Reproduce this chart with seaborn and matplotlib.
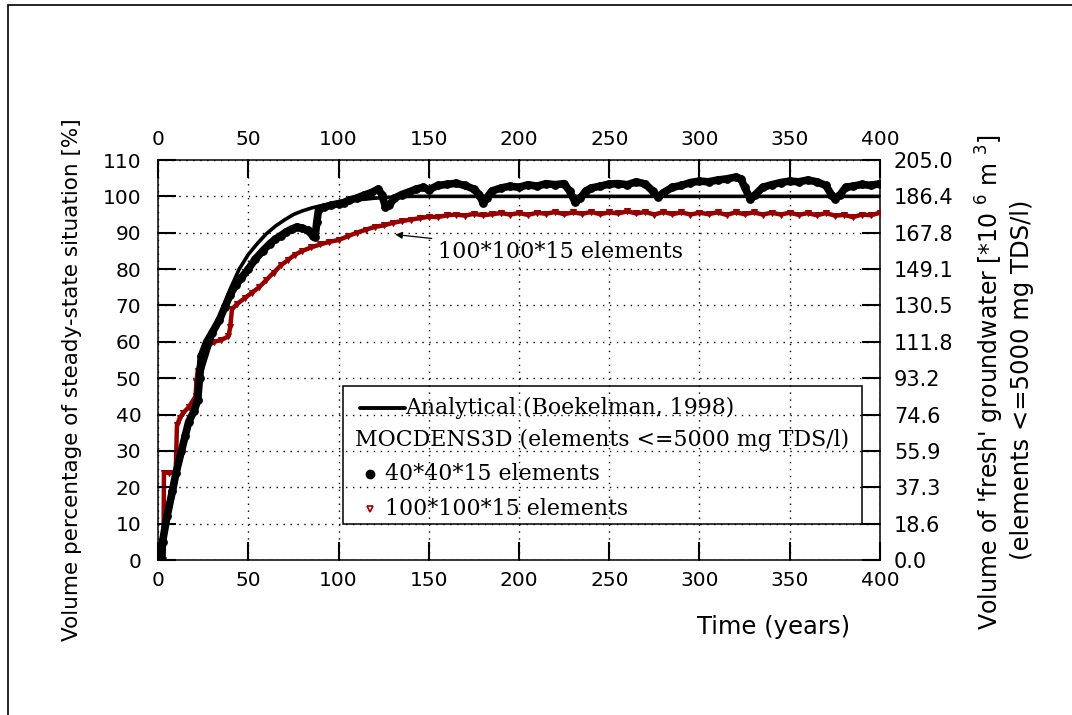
import matplotlib
matplotlib.use("Agg")
import matplotlib.pyplot as plt
import matplotlib.transforms as mtransforms
import seaborn as sns
import pandas as pd
from matplotlib.patches import Rectangle
from matplotlib.lines import Line2D

# ---------------- data ----------------
years_analytical = [0, 2, 5, 10, 15, 20, 25, 30, 35, 40, 45, 50, 55, 60, 65, 70, 75, 80,
                    85, 90, 95, 100, 110, 120, 130, 140, 150, 200, 250, 300, 350, 400]
pct_analytical = [0, 3, 10, 22, 33, 42, 53, 61, 68, 74.5, 80, 84, 87, 89.7, 91.8, 93.5, 95, 96,
                  96.8, 97.4, 97.9, 98.3, 99, 99.5, 99.8, 100, 100, 100, 100, 100, 100, 100]

years_40 = [0, 2, 2.5, 5, 8, 10, 13, 15, 17, 20, 22, 23, 24, 27, 30, 34, 37, 40, 43, 46, 50,
            54, 58, 62, 65, 68, 71, 74, 77, 80, 83, 86, 87, 88, 89, 92, 96, 100, 103, 106, 110,
            114, 118, 122, 124, 126, 128, 131, 135, 139, 143, 147, 150, 155, 160, 165, 170, 175,
            178, 180, 182, 185, 190, 195, 200, 205, 210, 215, 220, 225, 228, 231, 234, 237, 240,
            245, 250, 255, 260, 265, 270, 274, 277, 280, 285, 290, 295, 300, 305, 310, 315, 320,
            323, 325, 328, 331, 335, 340, 345, 350, 355, 360, 365, 370, 373, 375, 378, 381, 385,
            390, 395, 400]
pct_40 = [0, 0, 5, 12, 19, 24, 30, 34, 38, 41, 44, 50, 56, 60, 62.5, 66, 69.5, 73, 75.5, 77.5,
          80, 82.8, 85, 87, 88.2, 89.2, 90.2, 91, 91.6, 91.2, 90.7, 89, 88.8, 93, 96.5, 97, 97.6,
          98, 98.3, 99, 99.5, 100.3, 101, 102, 100.5, 97.2, 97.5, 99.5, 100.5, 101.2, 102,
          102.5, 101.8, 103, 103.3, 103.6, 103, 102, 100.5, 98.3, 99.5, 101.5, 102.3, 102.8,
          102.5, 103.2, 102.8, 103.5, 103.2, 103.5, 101.5, 98.5, 99.5, 101.5, 102.3, 102.8,
          103.4, 103.5, 103.2, 104, 103.4, 101.5, 99.8, 101, 102.5, 103, 103.8, 104.2, 104,
          104.5, 104.8, 105.3, 104.8, 102.5, 99.4, 100.5, 102.5, 103.2, 103.8, 104.2, 104,
          104.5, 104, 103, 100.5, 99.4, 100.5, 102.5, 102.8, 103.3, 103.0, 103.5]

years_100 = [0, 3, 3.3, 6, 9.8, 10.5, 12, 14, 17, 20.8, 21.3, 22, 24, 26, 28, 31, 35, 39, 40, 41,
             44, 48, 52, 56, 60, 64, 68, 72, 76, 80, 85, 90, 95, 100, 105, 110, 115, 120, 125,
             130, 135, 140, 145, 150, 155, 160, 165, 170, 175, 180, 185, 190, 195, 200, 205,
             210, 215, 220, 225, 230, 235, 240, 245, 250, 255, 260, 265, 270, 275, 280, 285,
             290, 295, 300, 305, 310, 315, 320, 325, 330, 335, 340, 345, 350, 355, 360, 365,
             370, 375, 380, 385, 390, 395, 400]
pct_100 = [0, 0, 24, 24, 24, 37, 39, 40.5, 42, 45, 49, 52, 55.5, 58, 59, 60, 60.5,
           61.5, 64, 69, 70.5, 72, 73.5, 75, 77, 79, 81, 82.5, 84, 85, 86, 86.8, 87.5, 88,
           89, 90, 90.8, 91.6, 92, 92.7, 93.2, 93.6, 94, 94.4, 94.3, 94.8, 95, 94.7, 95.2,
           94.8, 95.1, 95.4, 95, 95.4, 94.9, 95.5, 95.2, 95.7, 95.1, 95.6, 95.2, 95.7, 95.1,
           95.6, 95.3, 95.9, 95.3, 95.7, 95.0, 95.7, 95.1, 95.6, 95.0, 95.5, 95.1, 95.6, 94.9,
           95.6, 95.1, 95.6, 95.0, 95.5, 95.0, 95.5, 94.9, 95.4, 94.8, 95.4, 94.7, 94.9, 94.3,
           95.0, 94.8, 95.5]

x_ticks = [0, 50, 100, 150, 200, 250, 300, 350, 400]
y_ticks = [0, 10, 20, 30, 40, 50, 60, 70, 80, 90, 100, 110]
right_tick_labels = ["0.0", "18.6", "37.3", "55.9", "74.6", "93.2", "111.8", "130.5",
                     "149.1", "167.8", "186.4", "205.0"]

# ---------------- figure ----------------
sns.set_style("ticks")
plt.rcParams['font.family'] = ['DejaVu Sans']
plt.rcParams['text.color'] = 'black'
plt.rcParams['xtick.color'] = 'black'
plt.rcParams['ytick.color'] = 'black'
plt.rcParams['xtick.direction'] = 'in'
plt.rcParams['ytick.direction'] = 'in'
plt.rcParams['axes.axisbelow'] = False
RED = '#960000'

fig = plt.figure(figsize=(10.72, 7.15), dpi=100)
ax = fig.add_axes([158 / 1072, 1 - 560 / 715, (880 - 158) / 1072, 400 / 715])

df_a = pd.DataFrame({"t": years_analytical, "v": pct_analytical})
df_40 = pd.DataFrame({"t": years_40, "v": pct_40})
df_100 = pd.DataFrame({"t": years_100, "v": pct_100})

sns.lineplot(data=df_100, x="t", y="v", ax=ax, color=RED, lw=3.2, marker='v',
             markersize=4.5, markeredgecolor=RED, estimator=None, sort=False, zorder=3)
sns.lineplot(data=df_40, x="t", y="v", ax=ax, color='black', lw=5.5, marker='o',
             markersize=5.5, markeredgecolor='black', estimator=None, sort=False, zorder=4)
sns.lineplot(data=df_a, x="t", y="v", ax=ax, color='black', lw=2.6,
             estimator=None, sort=False, zorder=5)

ax.set_xlim(0, 400)
ax.set_ylim(0, 110)
ax.set_xticks(x_ticks)
ax.set_yticks(y_ticks)
ax.set_xlabel("")
ax.set_ylabel("")

axr = ax.twinx()
axr.set_ylim(0, 110)
axr.set_yticks(y_ticks)
axr.set_yticklabels(right_tick_labels)
axr.grid(False)
for s in axr.spines.values():
    s.set_visible(False)

ax.grid(True, color='black', linestyle=(0, (1, 4)), linewidth=1.0)
for s in ax.spines.values():
    s.set_visible(True)
    s.set_color('black')
    s.set_linewidth(1.1)
ax.xaxis.set_ticks_position('both')
ax.tick_params(axis='x', which='major', direction='in', length=13, width=1.5,
               labelsize=14.5, bottom=True, top=True, labeltop=True, labelbottom=True,
               pad=8, colors='black')
ax.tick_params(axis='y', which='major', direction='in', length=13, width=1.5,
               labelsize=14.5, left=True, labelleft=True, pad=12, colors='black')
axr.tick_params(axis='y', which='major', direction='in', length=13, width=1.5,
                labelsize=15, pad=10, right=True, labelright=True, left=False,
                labelleft=False, colors='black')

# solid inward tick segments at every tick position (all four sides)
tx = mtransforms.blended_transform_factory(ax.transData, ax.transAxes)
ty = mtransforms.blended_transform_factory(ax.transAxes, ax.transData)
for xt in x_ticks:
    ax.add_line(Line2D([xt, xt], [0, 0.0425], transform=tx, color='black', lw=1.4,
                       zorder=6, clip_on=False))
    ax.add_line(Line2D([xt, xt], [1, 1 - 0.0425], transform=tx, color='black', lw=1.4,
                       zorder=6, clip_on=False))
for yt in y_ticks:
    ax.add_line(Line2D([0, 0.0235], [yt, yt], transform=ty, color='black', lw=1.4,
                       zorder=6, clip_on=False))
    ax.add_line(Line2D([1, 1 - 0.0235], [yt, yt], transform=ty, color='black', lw=1.4,
                       zorder=6, clip_on=False))

# axis labels
fig.text(697 / 1072, 1 - 627 / 715, "Time (years)", fontsize=17.5, ha='left', va='center')
fig.text(72 / 1072, 1 - 380 / 715, "Volume percentage of steady-state situation [%]",
         fontsize=15.5, rotation=90, ha='center', va='center')
fig.text(990 / 1072, 1 - 382 / 715,
         "Volume of 'fresh' groundwater [*10 $^{6}$ m $^{3}$]",
         fontsize=17, rotation=90, ha='center', va='center')
fig.text(1022 / 1072, 1 - 380 / 715, "(elements <=5000 mg TDS/l)",
         fontsize=17.5, rotation=90, ha='center', va='center')

# annotation
ax.annotate("100*100*15 elements", xy=(131.5, 89.5), xytext=(155, 84.6),
            fontsize=16, family='DejaVu Serif', ha='left', va='center',
            arrowprops=dict(arrowstyle='-|>', color='black', lw=0.9, mutation_scale=10,
                            shrinkA=2, shrinkB=0))

# legend (manual)
serif = 'DejaVu Serif'
ax.add_patch(Rectangle((0.256, 0.09), 0.975 - 0.256, 0.435 - 0.09, transform=ax.transAxes,
                       fill=False, edgecolor='black', lw=1.1, zorder=6))
ax.add_line(Line2D([0.28, 0.342], [0.38, 0.38], transform=ax.transAxes, color='black',
                   lw=2.8, zorder=6))
ax.text(0.342, 0.38, "Analytical (Boekelman, 1998)", transform=ax.transAxes,
        fontsize=15.8, family=serif, ha='left', va='center', zorder=6)
ax.text(0.273, 0.30, "MOCDENS3D (elements <=5000 mg TDS/l)", transform=ax.transAxes,
        fontsize=15.8, family=serif, ha='left', va='center', zorder=6)
ax.plot([0.294], [0.215], marker='o', color='black', markersize=6, transform=ax.transAxes,
        zorder=6)
ax.text(0.314, 0.215, "40*40*15 elements", transform=ax.transAxes,
        fontsize=15.8, family=serif, ha='left', va='center', zorder=6)
ax.plot([0.294], [0.1275], marker='v', color=RED, markersize=5, transform=ax.transAxes,
        zorder=6, markerfacecolor='none', markeredgewidth=1.2)
ax.text(0.314, 0.1275, "100*100*15 elements", transform=ax.transAxes,
        fontsize=15.8, family=serif, ha='left', va='center', zorder=6)

# outer frame
fig.add_artist(Rectangle((8 / 1072, -0.05), 1.2, 1 - 5 / 715 + 0.05, transform=fig.transFigure,
                         fill=False, edgecolor='black', lw=1.2))

fig.savefig("out.png", dpi=100)
